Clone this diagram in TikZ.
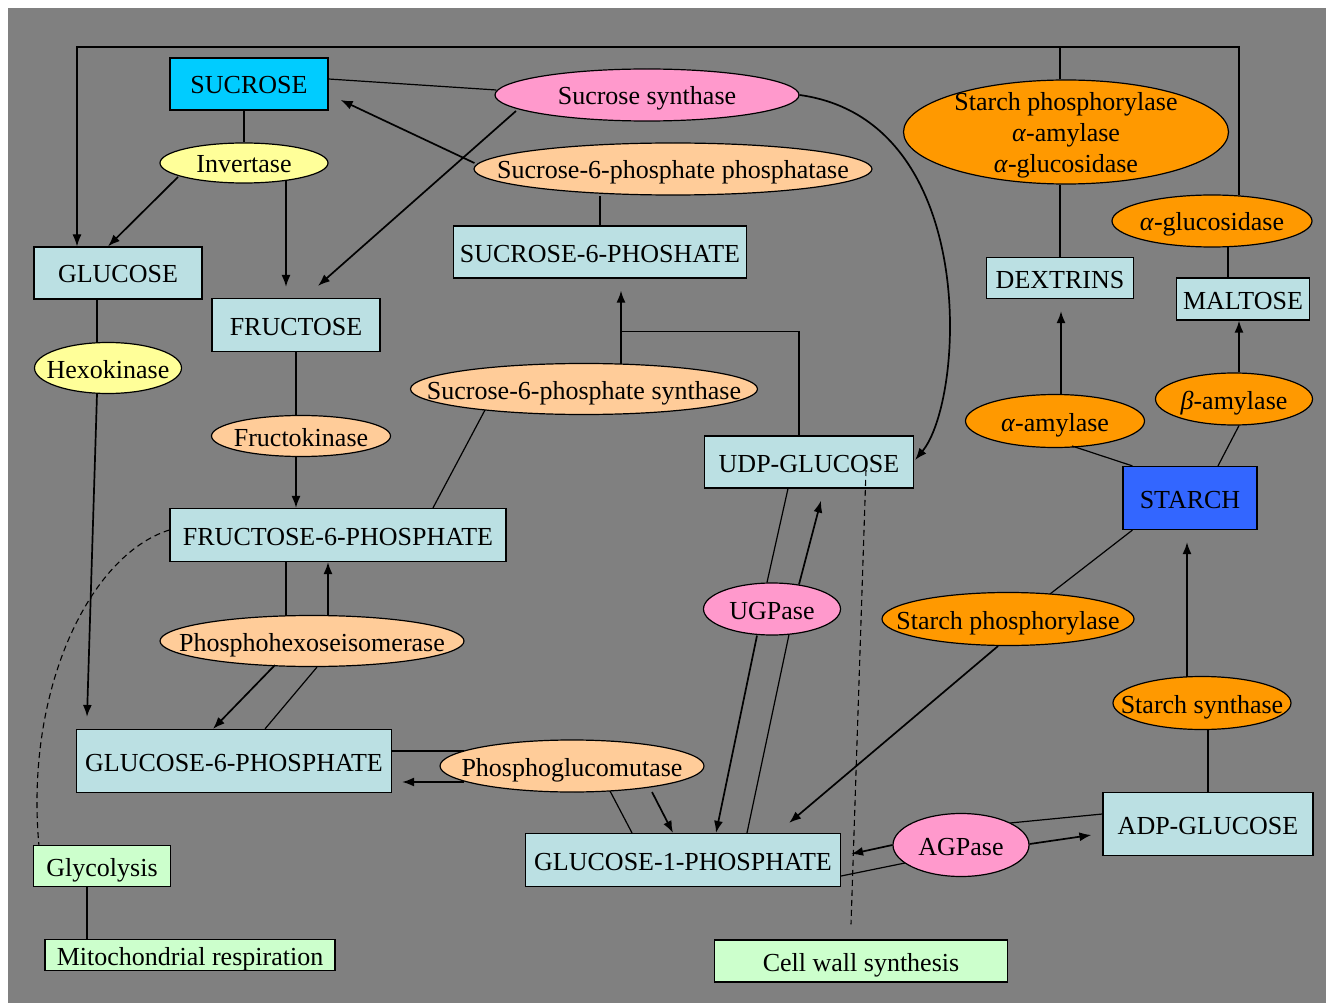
\documentclass[tikz,border=0pt]{standalone}
\usepackage{fontspec}
\setmainfont{Liberation Serif}
\usetikzlibrary{shapes.geometric,arrows.meta,calc}
\definecolor{bggray}{RGB}{128,128,128}
\definecolor{poolblue}{RGB}{187,224,227}
\definecolor{sucrosecyan}{RGB}{0,204,255}
\definecolor{starchblue}{RGB}{51,102,255}
\definecolor{enzyellow}{RGB}{255,255,153}
\definecolor{enzpeach}{RGB}{255,204,153}
\definecolor{enzpink}{RGB}{255,153,204}
\definecolor{enzorange}{RGB}{255,153,0}
\definecolor{pathgreen}{RGB}{204,255,204}
\newcommand\etxt[1]{\makebox[0pt]{#1}}

\begin{document}
\begin{tikzpicture}[x=1pt,y=-1pt]
    \tikzstyle{pool} = [rectangle, draw, line width=1.2pt, fill=poolblue, inner sep=0pt, text height=21pt, text depth=1pt, font=\fontsize{26}{31}\selectfont]
    \tikzstyle{enzyme} = [ellipse, draw, line width=1.2pt, inner sep=0pt, text height=21pt, text depth=1pt, font=\fontsize{26}{31}\selectfont]
    \tikzstyle{lnk} = [line width=1.2pt]
    \tikzstyle{arr} = [line width=1.7pt, -{Latex[length=12pt,width=9pt]}]
    \tikzstyle{dashline} = [line width=1.1pt, dash pattern=on 6pt off 4pt]

    \useasboundingbox (0,0) rectangle (1326,1003);
    \fill[bggray] (8,8) rectangle (1326,1003);

    \node[pool, fill=sucrosecyan, minimum width=158pt, minimum height=52pt] (sucrose) at (249,84) {SUCROSE};
    \node[pool, minimum width=168pt, minimum height=52pt] (glucose) at (118,273) {GLUCOSE};
    \node[pool, minimum width=168pt, minimum height=53pt] (fructose) at (296,325) {FRUCTOSE};
    \node[pool, minimum width=293pt, minimum height=52pt] (s6p) at (600,252) {SUCROSE-6-PHOSHATE};
    \node[pool, minimum width=147pt, minimum height=41pt] (dextrins) at (1060,278) {DEXTRINS};
    \node[pool, minimum width=133pt, minimum height=42pt] (maltose) at (1243,299) {MALTOSE};
    \node[pool, minimum width=209pt, minimum height=52pt] (udpg) at (809,462) {UDP-GLUCOSE};
    \node[pool, fill=starchblue, minimum width=134pt, minimum height=63pt] (starch) at (1190,498) {STARCH};
    \node[pool, minimum width=336pt, minimum height=53pt] (f6p) at (338,535) {FRUCTOSE-6-PHOSPHATE};
    \node[pool, minimum width=315pt, minimum height=63pt] (g6p) at (234,761) {GLUCOSE-6-PHOSPHATE};
    \node[pool, minimum width=210pt, minimum height=63pt] (adpg) at (1208,824) {ADP-GLUCOSE};
    \node[pool, minimum width=315pt, minimum height=53pt] (g1p) at (683,860) {GLUCOSE-1-PHOSPHATE};
    \node[pool, fill=pathgreen, minimum width=137pt, minimum height=41pt] (glycolysis) at (102,866) {Glycolysis};
    \node[pool, fill=pathgreen, minimum width=290pt, minimum height=31pt] (mito) at (190,955) {Mitochondrial respiration};
    \node[pool, fill=pathgreen, minimum width=293pt, minimum height=42pt] (cellwall) at (861,961) {Cell wall synthesis};

    \node[enzyme, fill=enzpink, minimum width=304pt, minimum height=52pt] (sucsyn) at (647,95) {\etxt{Sucrose synthase}};
    \node[enzyme, fill=enzyellow, minimum width=168pt, minimum height=40pt] (invertase) at (244,163) {\etxt{Invertase}};
    \node[enzyme, fill=enzpeach, minimum width=398pt, minimum height=52pt] (spp) at (673,169) {\etxt{Sucrose-6-phosphate phosphatase}};
    \node[enzyme, fill=enzorange, minimum width=325pt, minimum height=104pt, text height=0pt, text depth=0pt] (starchenz) at (1066,132) {\etxt{\smash{\raisebox{-10pt}{\begin{tabular}{@{}c@{}}Starch phosphorylase\\\textit{α}-amylase\\\textit{α}-glucosidase\end{tabular}}}}};
    \node[enzyme, fill=enzorange, minimum width=200pt, minimum height=52pt] (aglucA) at (1212,221) {\etxt{\textit{α}-glucosidase}};
    \node[enzyme, fill=enzyellow, minimum width=147pt, minimum height=51pt] (hexokinase) at (108,368) {\etxt{Hexokinase}};
    \node[enzyme, fill=enzpeach, minimum width=179pt, minimum height=41pt] (fructokinase) at (301,436) {\etxt{Fructokinase}};
    \node[enzyme, fill=enzpeach, minimum width=347pt, minimum height=51pt] (sps) at (584,389) {\etxt{Sucrose-6-phosphate synthase}};
    \node[enzyme, fill=enzorange, minimum width=179pt, minimum height=53pt] (aamylase) at (1055,421) {\etxt{\textit{α}-amylase}};
    \node[enzyme, fill=enzorange, minimum width=157pt, minimum height=52pt] (bamylase) at (1234,399) {\etxt{\textit{β}-amylase}};
    \node[enzyme, fill=enzpink, minimum width=137pt, minimum height=52pt] (ugpase) at (772,609) {\etxt{UGPase}};
    \node[enzyme, fill=enzpeach, minimum width=304pt, minimum height=51pt] (phi) at (312,641) {\etxt{Phosphohexoseisomerase}};
    \node[enzyme, fill=enzorange, minimum width=252pt, minimum height=53pt] (sphos) at (1008,619) {\etxt{Starch phosphorylase}};
    \node[enzyme, fill=enzorange, minimum width=178pt, minimum height=53pt] (ssyn) at (1202,703) {\etxt{Starch synthase}};
    \node[enzyme, fill=enzpeach, minimum width=264pt, minimum height=52pt] (pgm) at (572,766) {\etxt{Phosphoglucomutase}};
    \node[enzyme, fill=enzpink, minimum width=136pt, minimum height=63pt] (agpase) at (961,845) {\etxt{AGPase}};

    \coordinate (ceil) at (77,47);

    \draw[arr, line width=1.2pt] ($(aglucA.north)+(27,1)$) |- (ceil) -- ($(glucose.north)+(-41,0)$);
    \draw[lnk] (dextrins.north |- starchenz.north) -- (dextrins.north |- ceil);
    \draw[lnk] ($(sucrose.east)+(0,-5)$) -- ($(sucsyn.west)+(2,-5)$);
    \draw[arr] ($(sucsyn)+(-131,16)$) -- ($(fructose.north)+(22,-12)$);
    \draw[arr] ($(spp.west)+(1,-6)$) -- ($(sucrose.east)+(12,16)$);
    \draw[lnk] (invertase.north |- sucrose.south) -- (invertase.north);
    \draw[arr] ($(invertase)+(-66,14)$) -- ($(glucose.north)+(-10,0)$);
    \draw[arr] ($(invertase)+(42,17)$) -- ($(fructose.north)+(-10,-11)$);
    \draw[arr] (sucsyn.east) .. controls +(181,25) and +(50,-60) .. ($(udpg.east)+(1,-2)$);

    \draw[lnk] (s6p.north) -- (s6p.north |- spp.south);
    \draw[arr] ($(sps.north)+(37,1)$) -- ($(s6p.south)+(21,12)$);
    \draw[lnk] ($(udpg.north)+(-10,0)$) |- ($(s6p.south)+(21,53)$);
    \draw[lnk] ($(sps)+(-99,21)$) -- ($(f6p.north)+(95,0)$);

    \draw[lnk] ($(glucose.south)+(-21,0)$) -- ($(hexokinase.north)+(-11,1)$);
    \draw[arr] ($(hexokinase.south)+(-11,0)$) -- ($(g6p.north)+(-147,-12)$);
    \draw[lnk] (fructose.south) -- (fructose.south |- fructokinase.north);
    \draw[arr] (fructose.south |- fructokinase.south) -- (fructose.south |- f6p.north);
    \draw[lnk] ($(f6p.south)+(-52,0)$) -- ($(phi.north)+(-26,1)$);
    \draw[arr] ($(phi.north)+(16,0)$) -- ($(f6p.south)+(-10,0)$);
    \draw[arr] ($(phi)+(-37,24)$) -- ($(g6p.north)+(-21,0)$);
    \draw[lnk] ($(phi.south)+(5,0)$) -- ($(g6p.north)+(31,0)$);
    \draw[lnk] ($(g6p.east)+(0,-10)$) -- ($(pgm)+(-108,-15)$);
    \draw[arr] ($(pgm)+(-108,16)$) -- ($(g6p.east)+(10,21)$);
    \draw[lnk] ($(pgm)+(38,25)$) -- ($(g1p.north)+(-51,0)$);
    \draw[arr] ($(pgm)+(80,26)$) -- ($(g1p.north)+(-10,0)$);

    \draw[lnk] ($(udpg.south)+(-21,0)$) -- ($(ugpase.north)+(-5,0)$);
    \draw[arr] ($(ugpase.south)+(-15,0)$) -- ($(g1p.north)+(33,0)$);
    \draw[lnk] ($(g1p.north)+(64,0)$) -- ($(ugpase.south)+(17,-1)$);
    \draw[arr] ($(ugpase.north)+(27,2)$) -- ($(udpg.south)+(12,12)$);
    \draw[dashline] ($(udpg)+(57,8)$) -- ($(cellwall.north)+(-10,-15)$);
    \draw[dashline] ($(f6p.west)+(0,-5)$) .. controls +(-80,25) and +(-14,-155) .. ($(glycolysis.north west)+(6,0)$);
    \draw[lnk] ($(glycolysis.south)+(-15,0)$) -- ($(mito.north)+(-103,0)$);

    \draw[lnk] (dextrins.north) -- (dextrins.north |- starchenz.south);
    \draw[lnk] ($(aglucA.south)+(16,-1)$) -- ($(maltose.north)+(-15,0)$);
    \draw[arr] ($(aamylase.north)+(6,0)$) -- ($(dextrins.south)+(1,12)$);
    \draw[arr] ($(bamylase.north)+(5,0)$) -- ($(maltose.south)+(-4,0)$);
    \draw[lnk] ($(aamylase)+(17,25)$) -- ($(starch.north west)+(10,0)$);
    \draw[lnk] ($(bamylase.south)+(5,0)$) -- ($(starch.north)+(28,0)$);
    \draw[lnk] ($(starch.south west)+(10,0)$) -- ($(sphos)+(42,-25)$);
    \draw[arr] ($(sphos.south)+(-10,0)$) -- ($(g1p.north east)+(-52,-10)$);
    \draw[arr] ($(ssyn.north)+(-15,1)$) -- ($(starch.south)+(-3,12)$);
    \draw[lnk] (adpg.north) -- (adpg.north |- ssyn.south);
    \draw[lnk] ($(adpg.west)+(0,-10)$) -- ($(agpase)+(49,-22)$);
    \draw[arr] ($(agpase.east)+(0,-1)$) -- ($(adpg.west)+(-11,11)$);
    \draw[arr] (agpase.west) -- ($(g1p.east)+(10,-6)$);
    \draw[lnk] ($(g1p.east)+(0,16)$) -- ($(agpase)+(-56,18)$);
\end{tikzpicture}
\end{document}
